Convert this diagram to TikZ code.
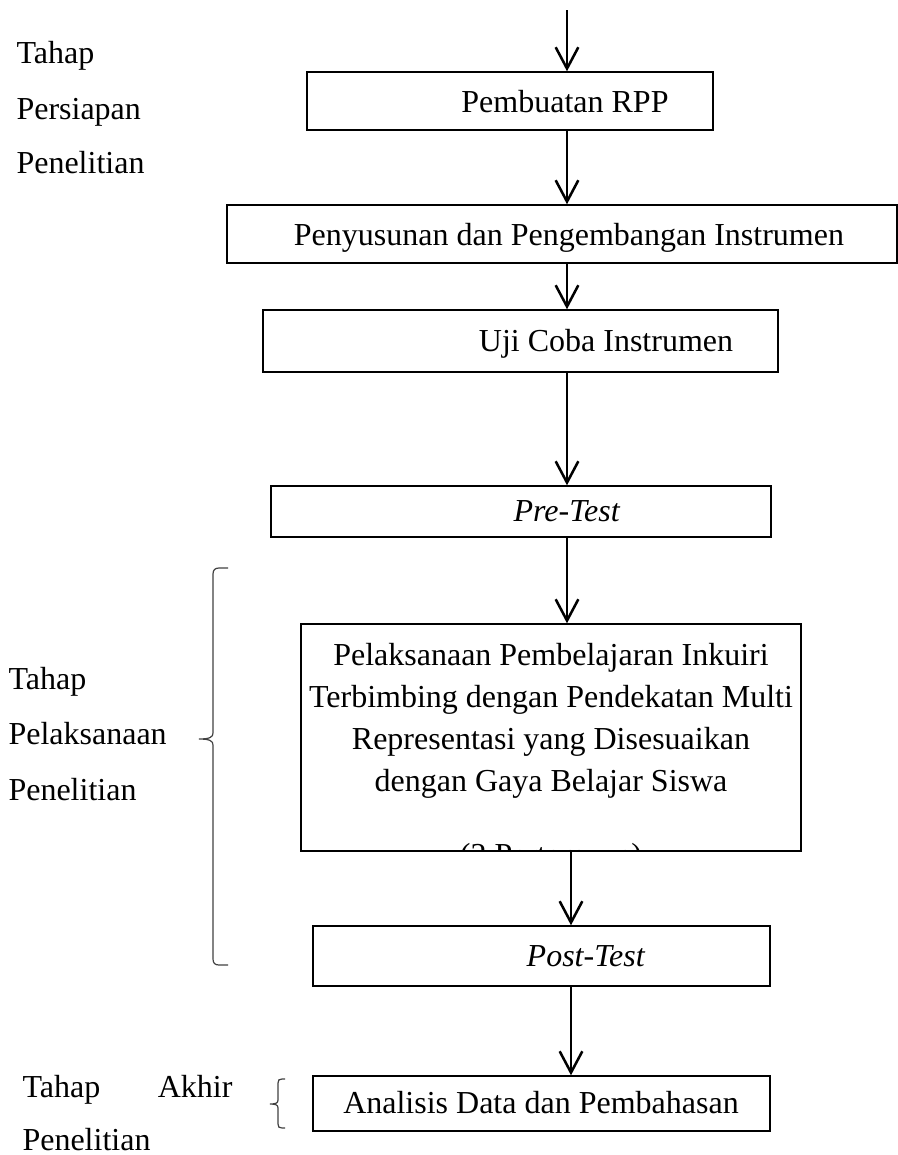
\documentclass[tikz,border=0pt]{standalone}
\usepackage{fontspec}
\setmainfont{Liberation Serif}
\usetikzlibrary{arrows.meta}

\begin{document}
\begin{tikzpicture}[
    x=0.375pt, y=-0.375pt,
    box_format/.style={draw, line width=0.55pt, inner sep=0pt},
    text_format/.style={font=\fontsize{12}{15.75}\selectfont, inner sep=0pt},
    side_format/.style={text_format, anchor=base west},
    arrow_format/.style={line width=0.95pt, line join=miter,
      -{Straight Barb[length=8pt,width=8.5pt]}},
    brace_format/.style={draw=black!75, line width=0.45pt},
    ]

    \useasboundingbox (0,0) rectangle (898,1155);

    % --- Boxes ---
    \node[box_format, minimum width=152.25pt, minimum height=21.75pt] (rpp) at (510,101) {};
    \node[box_format, minimum width=251.25pt, minimum height=21.75pt] (susun) at (562,234) {};
    \node[box_format, minimum width=193.1pt, minimum height=23.25pt] (uji) at (520.5,341) {};
    \node[box_format, minimum width=187.5pt, minimum height=19.1pt] (pre) at (521,511.5) {};
    \node[box_format, minimum width=187.5pt, minimum height=85.1pt] (laksana) at (551,737.5) {};
    \node[box_format, minimum width=171.4pt, minimum height=22.5pt] (post) at (541.5,956) {};
    \node[box_format, minimum width=171.4pt, minimum height=20.6pt] (analisis) at (541.5,1103.5) {};

    % --- Box texts ---
    \node[text_format, anchor=base] (rpp_text) at (565,112) {Pembuatan RPP};
    \node[text_format, anchor=base] (susun_text) at (569,245) {Penyusunan dan Pengembangan Instrumen};
    \node[text_format, anchor=base] (uji_text) at (606,351) {Uji Coba Instrumen};
    \node[text_format, anchor=base] (pre_text) at (567,521) {\textit{Pre-Test}};
    \node[text_format, anchor=north, align=center] (laksana_text) at (551,643) {
      Pelaksanaan Pembelajaran Inkuiri \\
      Terbimbing dengan Pendekatan Multi \\
      Representasi yang Disesuaikan \\
      dengan Gaya Belajar Siswa
    };
    \begin{scope}
      \clip (laksana.south west) rectangle (laksana.north east);
      \node[text_format, anchor=base] (meet_text) at (551,865) {(2 Pertemuan)};
    \end{scope}
    \node[text_format, anchor=base] (post_text) at (586,966) {\textit{Post-Test}};
    \node[text_format, anchor=base] (analisis_text) at (541,1113) {Analisis Data dan Pembahasan};

    % --- Arrows ---
    \coordinate (start) at (567,10);
    \coordinate (axis) at (567,0);
    \coordinate (axis_low) at (571,0);
    \draw[arrow_format] (start) -- (rpp.north -| start);
    \draw[arrow_format] (rpp.south -| axis) -- (susun.north -| axis);
    \draw[arrow_format] (susun.south -| axis) -- (uji.north -| axis);
    \draw[arrow_format] (uji.south -| axis) -- (pre.north -| axis);
    \draw[arrow_format] (pre.south -| axis) -- (laksana.north -| axis);
    \draw[arrow_format] (laksana.south -| axis_low) -- (post.north -| axis_low);
    \draw[arrow_format] (post.south -| axis_low) -- (analisis.north -| axis_low);

    % --- Stage labels ---
    \node[side_format] (siap_a) at (16,63) {Tahap};
    \node[side_format] (siap_b) at (16,119) {Persiapan};
    \node[side_format] (siap_c) at (16,173) {Penelitian};

    \node[side_format] (laks_a) at (8,689) {Tahap};
    \node[side_format] (laks_b) at (8,744) {Pelaksanaan};
    \node[side_format] (laks_c) at (8,800) {Penelitian};

    \node[side_format] (akhir_a) at (22,1097) {Tahap};
    \node[text_format, anchor=base east] (akhir_b) at (233,1097) {Akhir};
    \node[side_format] (akhir_c) at (22,1150) {Penelitian};

    % --- Braces ---
    \draw[brace_format] (228,568) -- (219,568) .. controls (215,568) and (213,570) .. (213,574)
      -- (213,733) .. controls (213,737) and (210,739) .. (199,739)
      .. controls (210,739) and (213,741) .. (213,745)
      -- (213,959) .. controls (213,963) and (215,965) .. (219,965) -- (228,965);
    \draw[brace_format] (285,1079) -- (282,1079) .. controls (279,1079) and (278,1080) .. (278,1083)
      -- (278,1100) .. controls (278,1103) and (276,1104) .. (270,1104)
      .. controls (276,1104) and (278,1105) .. (278,1108)
      -- (278,1124) .. controls (278,1127) and (279,1128) .. (282,1128) -- (285,1128);

  \end{tikzpicture}
\end{document}
